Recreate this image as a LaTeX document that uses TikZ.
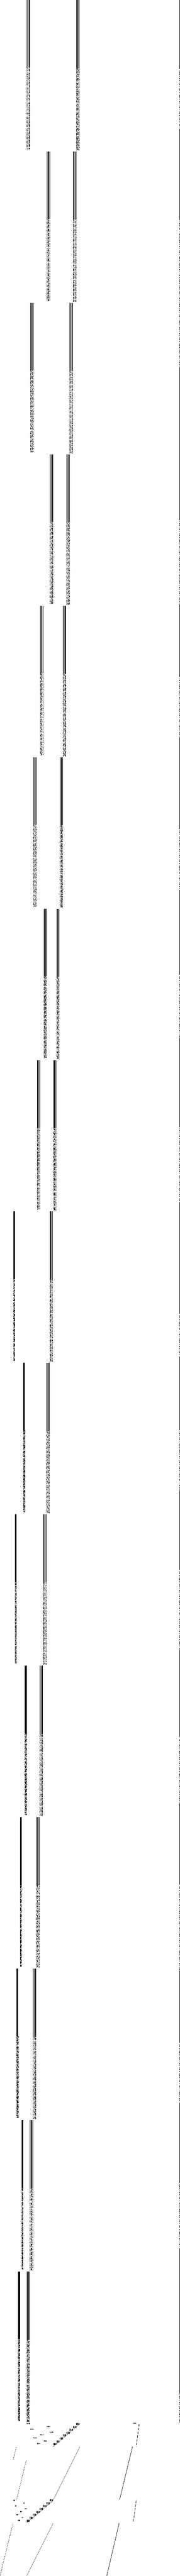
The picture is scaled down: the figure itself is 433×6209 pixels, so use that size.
\documentclass[tikz,border=0pt]{standalone}
\begin{document}
\begin{tikzpicture}[x=1pt,y=-1pt,
  solidline/.style={line width=1pt, line cap=butt},
  brokenA/.style={line width=1pt, dash pattern=on 3pt off 1pt on 1pt off 2pt on 2pt off 1pt},
  brokenB/.style={line width=1pt, dash pattern=on 1pt off 1pt on 4pt off 2pt on 1pt off 3pt},
  brokenC/.style={line width=1pt, dash pattern=on 2pt off 2pt on 1pt off 1pt on 3pt off 1pt},
  brokenD/.style={line width=1pt, dash pattern=on 1pt off 2pt on 2pt off 1pt on 1pt off 1pt},
  bordbroken/.style={line width=1pt, dash pattern=on 2pt off 3pt on 1pt off 2pt on 4pt off 2pt},
  dotline/.style={line width=0.8pt, dash pattern=on 1pt off 1pt},
  dashline/.style={line width=0.8pt, dash pattern=on 2pt off 2pt},
  longdash/.style={line width=1pt, dash pattern=on 6pt off 3pt},
  tick/.style={line width=1pt},
]
\useasboundingbox (0,0) rectangle (433,6209);
\fill[white] (0,0) rectangle (433,6209);

\newcommand{\quadcol}[3]{%
  \pgfmathsetmacro\ysplit{#2+0.45*#3}%
  \pgfmathsetmacro\yend{#2+#3}%
  \foreach \o/\st in {0.5/brokenA,2.5/brokenB,4.5/brokenC,6.5/brokenD}{%
    \draw[solidline] (#1+\o,#2) -- (#1+\o,\ysplit);
    \draw[\st] (#1+\o,\ysplit) -- (#1+\o,\yend);
  }}
\newcommand{\barcol}[3]{%
  \pgfmathsetmacro\ysplit{#2+0.45*#3}%
  \pgfmathsetmacro\yend{#2+#3}%
  \fill[black] (#1,#2) rectangle (#1+4,\ysplit);
  \foreach \o/\st in {0.5/brokenD,1.5/brokenA,2.5/brokenC,3.5/brokenB}{%
    \draw[\st] (#1+\o,\ysplit) -- (#1+\o,\yend);
  }}

% columns, pairs 1-8
\foreach \k/\lx in {1/65,2/113,3/73,4/121,5/97,6/81,7/105,8/89}{%
  \pgfmathsetmacro\yt{365*(\k-1)}%
  \pgfmathsetmacro\rx{184-8*(\k-1)}%
  \quadcol{\lx}{\yt}{360}
  \quadcol{\rx}{\yt}{363}
}
% columns, pairs 9-16
\foreach \k/\lx in {9/32,10/56,11/36,12/60,13/48,14/40,15/52,16/44}{%
  \pgfmathsetmacro\yt{365*(\k-1)}%
  \pgfmathsetmacro\rx{184-8*(\k-1)}%
  \barcol{\lx}{\yt}{360}
  \quadcol{\rx}{\yt}{363}
}

% right border
\foreach \a/\b in {0/165,310/528,886/1252,1456/1630,1777/1996,2144/2348,2501/2715,2897/3165,3273/3445,3592/3782,3980/4184,4350/4541,4750/4922,5069/5260,5420/5767}{%
  \draw[solidline] (432.5,\a) -- (432.5,\b);
}
\foreach \a/\b in {165/310,528/886,1252/1456,1630/1777,1996/2144,2348/2501,2715/2897,3165/3273,3445/3592,3782/3980,4184/4350,4541/4750,4922/5069,5260/5420,5767/5840}{%
  \draw[bordbroken] (432.5,\a) -- (432.5,\b);
}

% bottom projection, first group
\foreach \k/\lx in {1/65,2/113,3/73,4/121,5/97,6/81,7/105,8/89}{%
  \pgfmathsetmacro\ym{5840+7*(\k-1)}%
  \pgfmathsetmacro\rx{184-8*(\k-1)}%
  \foreach \o in {0.5,2.5,4.5,6.5}{%
    \draw[tick] (\lx+\o,\ym) -- ++(0,2.5);
    \draw[tick] (\rx+\o,\ym) -- ++(0,5);
  }
}
\draw[dotline] (191,5843) -- (128,5897);
\draw[dotline] (192,5898) -- (127,6028);
\draw[dashline] (39,5899) -- (32,5928);
\draw[dashline] (63,5931) -- (40,6025);

% bottom projection, second group
\foreach \k/\lx in {9/32,10/56,11/36,12/60,13/48,14/40,15/52,16/44}{%
  \pgfmathsetmacro\ym{6025+7*(\k-9)}%
  \pgfmathsetmacro\rx{184-8*(\k-1)}%
  \fill[black] (\lx,\ym) rectangle ++(4,2);
  \foreach \o in {0.5,2.5,4.5,6.5}{%
    \draw[tick] (\rx+\o,\ym-1) -- ++(0,5);
  }
}
\draw[dotline] (127,6028) -- (64,6081);
\draw[dashline] (31,6083) -- (0,6209);
\draw[dotline] (128,6082) -- (64,6209);

% right side lines
\draw[line width=1pt] (320,5840) -- (328,5840);
\draw[longdash] (335,5843) -- (328,5897);
\draw[line width=0.8pt] (319,5897) -- (288,6025);
\draw[longdash] (328,6027) -- (321,6080);
\draw[line width=0.8pt] (287,6081) -- (257,6209);
\end{tikzpicture}
\end{document}
